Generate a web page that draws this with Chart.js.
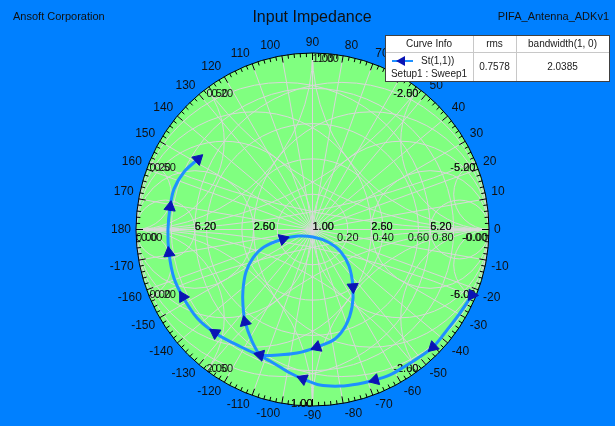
<!DOCTYPE html>
<html>
<head>
<meta charset="utf-8">
<script src="https://cdn.jsdelivr.net/npm/chart.js@4/dist/chart.umd.min.js"></script>
<style>
  html, body { margin: 0; padding: 0; background: #0080ff; }
  canvas { display: block; }
</style>
</head>
<body>
<canvas id="smithChart" width="615" height="426"></canvas>
<script>
// S(1,1) trace, reflection coefficient (real / imag), sweep order
const s11Re = [0.904, 0.824, 0.745, 0.683, 0.598, 0.518, 0.439, 0.354, 0.258, 0.156,
               0.042, -0.054, -0.127, -0.184, -0.241, -0.297, -0.343, -0.382, -0.394, -0.394,
               -0.377, -0.337, -0.275, -0.167, -0.082, 0.003, 0.088, 0.161, 0.207, 0.229,
               0.224, 0.190, 0.127, 0.025, -0.088, -0.195, -0.297, -0.428, -0.552, -0.654,
               -0.734, -0.785, -0.813, -0.819, -0.807, -0.785, -0.728, -0.649];
const s11Im = [-0.371, -0.490, -0.592, -0.666, -0.728, -0.779, -0.824, -0.853, -0.875, -0.887,
               -0.881, -0.847, -0.813, -0.779, -0.745, -0.711, -0.632, -0.524, -0.428, -0.343,
               -0.241, -0.161, -0.099, -0.054, -0.037, -0.042, -0.071, -0.127, -0.207, -0.326,
               -0.439, -0.541, -0.620, -0.666, -0.700, -0.711, -0.711, -0.654, -0.586, -0.501,
               -0.382, -0.275, -0.133, -0.003, 0.127, 0.229, 0.326, 0.399];
const markerIdx = [0, 3, 7, 11, 17, 23, 29, 33, 36, 38, 40, 42, 44, 47];

// grid values
const phaseTicks = [0, 10, 20, 30, 40, 50, 60, 70, 80, 90, 100, 110, 120, 130, 140, 150, 160, 170, 180,
                    -170, -160, -150, -140, -130, -120, -110, -100, -90, -80, -70, -60, -50, -40, -30, -20, -10];
const gammaRings = [0.2, 0.4, 0.6, 0.8];
const gammaLabels = ['0.20', '0.40', '0.60', '0.80'];
const resistVals = [0.2, 0.5, 1, 2, 5];
const resistLabels = ['6.20', '2.60', '1.00', '2.60', '6.20'];
const resistGhost = ['5.20', '2.50', '1.00', '2.50', '5.20'];
const reactVals = [0.2, 0.5, 1, 2, 5];
const rimReact = [0.2, 0.5, 1, 2, 5, -0.2, -0.5, -1, -2, -5];
const rimLabels = ['0.20', '0.50', '1.00', '-2.00', '-5.00', '0.00', '2.00', '-1.00', '-2.00', '-5.00'];
const rimGhost = ['0.50', '0.20', '1.00', '2.50', '5.20', '0.20', '0.50', '-1.00', '2.60', '6.00'];

// legend table
const curveName = 'St(1,1))';
const setupName = 'Setup1 : Sweep1';
const rmsValue = '0.7578';
const bandwidthValue = '2.0385';

const FONT = '"Liberation Sans", Arial, sans-serif';

// arrow direction of each marker, from its neighbours on the trace
const rotations = s11Re.map((v, i) => {
    const a = Math.max(0, i - 1), b = Math.min(s11Re.length - 1, i + 1);
    const dx = s11Re[b] - s11Re[a];
    const dy = s11Im[b] - s11Im[a];
    return Math.atan2(dx, dy) * 180 / Math.PI;
});

const smithGrid = {
    id: 'smithGrid',
    beforeDraw(chart) {
        const ctx = chart.ctx;
        ctx.save();
        ctx.fillStyle = '#0080ff';
        ctx.fillRect(0, 0, chart.width, chart.height);
        ctx.fillStyle = '#101010';
        ctx.textBaseline = 'middle';
        ctx.font = '11px ' + FONT;
        ctx.textAlign = 'left';
        ctx.fillText('Ansoft Corporation', 13, 17);
        ctx.textAlign = 'right';
        ctx.fillText('PIFA_Antenna_ADKv1', 609, 17);
        ctx.textAlign = 'center';
        ctx.font = '16px ' + FONT;
        ctx.fillText('Input Impedance', 312, 18);
        ctx.restore();
    },
    beforeDatasetsDraw(chart) {
        const ctx = chart.ctx;
        const xs = chart.scales.x, ys = chart.scales.y;
        const px = v => xs.getPixelForValue(v);
        const py = v => ys.getPixelForValue(v);
        const cx = px(0), cy = py(0), R = px(1) - px(0);

        ctx.save();
        ctx.beginPath();
        ctx.arc(cx, cy, R, 0, Math.PI * 2);
        ctx.fillStyle = '#80ff80';
        ctx.fill();

        // grid, clipped to the unit circle
        ctx.save();
        ctx.clip();
        ctx.strokeStyle = '#d8d8d8';
        ctx.lineWidth = 1;
        const circ = (gx, gy, r) => {
            ctx.beginPath();
            ctx.arc(px(gx), py(gy), r * R, 0, Math.PI * 2);
            ctx.stroke();
        };
        gammaRings.forEach(g => circ(0, 0, g));
        resistVals.forEach(r => {
            circ(r / (1 + r), 0, 1 / (1 + r));
            circ(-r / (1 + r), 0, 1 / (1 + r));
        });
        reactVals.forEach(v => {
            [1, -1].forEach(s => {
                circ(1, s / v, 1 / v);
                circ(-1, s / v, 1 / v);
            });
        });
        for (let a = 0; a < 180; a += 10) {
            const t = a * Math.PI / 180;
            ctx.beginPath();
            ctx.moveTo(cx - R * Math.cos(t), cy + R * Math.sin(t));
            ctx.lineTo(cx + R * Math.cos(t), cy - R * Math.sin(t));
            ctx.stroke();
        }
        ctx.restore();

        // rim and ticks
        ctx.strokeStyle = '#000';
        ctx.lineWidth = 1;
        ctx.beginPath();
        ctx.arc(cx, cy, R, 0, Math.PI * 2);
        ctx.stroke();
        for (let d = 0; d < 360; d += 2) {
            const t = d * Math.PI / 180;
            const len = d % 10 === 0 ? 7 : 4;
            ctx.beginPath();
            ctx.moveTo(cx + R * Math.cos(t), cy - R * Math.sin(t));
            ctx.lineTo(cx + (R - len) * Math.cos(t), cy - (R - len) * Math.sin(t));
            ctx.stroke();
        }

        // phase labels outside, text box corner placed just off the rim
        ctx.fillStyle = '#101010';
        ctx.font = '12px ' + FONT;
        ctx.textAlign = 'center';
        ctx.textBaseline = 'middle';
        const sgn = v => Math.abs(v) < 0.02 ? 0 : Math.sign(v);
        phaseTicks.forEach(v => {
            const t = v * Math.PI / 180;
            const w = ctx.measureText(String(v)).width;
            const ax = cx + (R + 4) * Math.cos(t), ay = cy - (R + 4) * Math.sin(t);
            ctx.fillText(String(v), ax + sgn(Math.cos(t)) * (w / 2 + 1), ay - sgn(Math.sin(t)) * 6);
        });

        // inner labels
        ctx.font = '11px ' + FONT;
        ctx.fillStyle = '#151515';
        ctx.textBaseline = 'middle';
        resistVals.forEach((r, i) => {
            const g = (r - 1) / (r + 1);
            ctx.textAlign = 'left';
            ctx.fillText(resistGhost[i], px(g), cy - 3);
            ctx.fillText(resistLabels[i], px(g), cy - 3);
        });
        gammaRings.forEach((g, i) => {
            ctx.textAlign = i === gammaRings.length - 1 ? 'right' : 'center';
            ctx.fillText(gammaLabels[i], px(g), cy + 8);
        });
        ctx.textAlign = 'right';
        ctx.fillText('-0.00', px(1) - 1, cy + 8);
        ctx.fillText('-0.00', px(1) - 2, cy + 8);
        ctx.textAlign = 'left';
        ctx.fillText('0.00', px(-1) + 5, cy + 8);
        ctx.fillText('0.00', px(-1), cy + 8);

        rimReact.forEach((x, i) => {
            const d = x * x + 1;
            const gr = (x * x - 1) / d, gi = 2 * x / d;
            let lx = px(gr), ly = py(gi);
            let off = 0;
            if (gr < -0.01 || (Math.abs(gr) <= 0.01 && x > 0)) {
                ctx.textAlign = 'left';
                off = 5;
            } else {
                ctx.textAlign = 'right';
            }
            ly = gi > 0 ? ly + 6 : ly - 2;
            ctx.fillText(rimGhost[i], lx + off, ly);
            ctx.fillText(rimLabels[i], lx, ly);
        });
        ctx.restore();
    },
    afterDraw(chart) {
        const ctx = chart.ctx;
        const x0 = 385, x1 = 473, x2 = 516, x3 = 609, y0 = 35, y1 = 52, y2 = 81;
        ctx.save();
        ctx.fillStyle = '#ffffff';
        ctx.fillRect(x0, y0, x3 - x0, y2 - y0);
        ctx.strokeStyle = '#c8c8c8';
        ctx.lineWidth = 1;
        ctx.beginPath();
        ctx.moveTo(x0, y1 + 0.5); ctx.lineTo(x3, y1 + 0.5);
        ctx.moveTo(x1 + 0.5, y0); ctx.lineTo(x1 + 0.5, y2);
        ctx.moveTo(x2 + 0.5, y0); ctx.lineTo(x2 + 0.5, y2);
        ctx.stroke();
        ctx.strokeStyle = '#404040';
        ctx.strokeRect(x0 + 0.5, y0 + 0.5, x3 - x0, y2 - y0);

        ctx.fillStyle = '#202020';
        ctx.font = '10px ' + FONT;
        ctx.textAlign = 'center';
        ctx.textBaseline = 'middle';
        ctx.fillText('Curve Info', (x0 + x1) / 2, 44);
        ctx.fillText('rms', (x1 + x2) / 2, 44);
        ctx.fillText('bandwidth(1, 0)', (x2 + x3) / 2, 44);
        ctx.fillText(setupName, (x0 + x1) / 2, 74);
        ctx.fillText(rmsValue, (x1 + x2) / 2, 67);
        ctx.fillText(bandwidthValue, (x2 + x3) / 2, 67);
        ctx.textAlign = 'left';
        ctx.fillText(curveName, 421, 61);

        ctx.strokeStyle = '#1e90ff';
        ctx.lineWidth = 2;
        ctx.beginPath();
        ctx.moveTo(392, 61); ctx.lineTo(413, 61);
        ctx.stroke();
        ctx.fillStyle = '#0a14b4';
        ctx.beginPath();
        ctx.moveTo(396, 61); ctx.lineTo(405, 56); ctx.lineTo(405, 66);
        ctx.closePath();
        ctx.fill();
        ctx.restore();
    }
};

const chart = new Chart(document.getElementById('smithChart'), {
    type: 'scatter',
    data: {
        datasets: [{
            label: 'S(1,1)',
            data: s11Re.map((v, i) => ({x: v, y: s11Im[i]})),
            showLine: true,
            tension: 0.3,
            borderColor: '#1e90ff',
            borderWidth: 3,
            pointStyle: 'triangle',
            pointRadius: c => markerIdx.includes(c.dataIndex) ? 6.5 : 0,
            pointRotation: c => rotations[c.dataIndex],
            pointBackgroundColor: '#0a14b4',
            pointBorderColor: '#0a14b4',
            pointBorderWidth: 1
        }]
    },
    options: {
        responsive: false,
        animation: false,
        layout: {padding: {left: 136, right: 126, top: 53, bottom: 20}},
        scales: {
            x: {type: 'linear', min: -1, max: 1, display: false},
            y: {type: 'linear', min: -1, max: 1, display: false}
        },
        plugins: {
            legend: {display: false},
            tooltip: {enabled: false},
            title: {display: false}
        }
    },
    plugins: [smithGrid]
});
</script>
</body>
</html>
